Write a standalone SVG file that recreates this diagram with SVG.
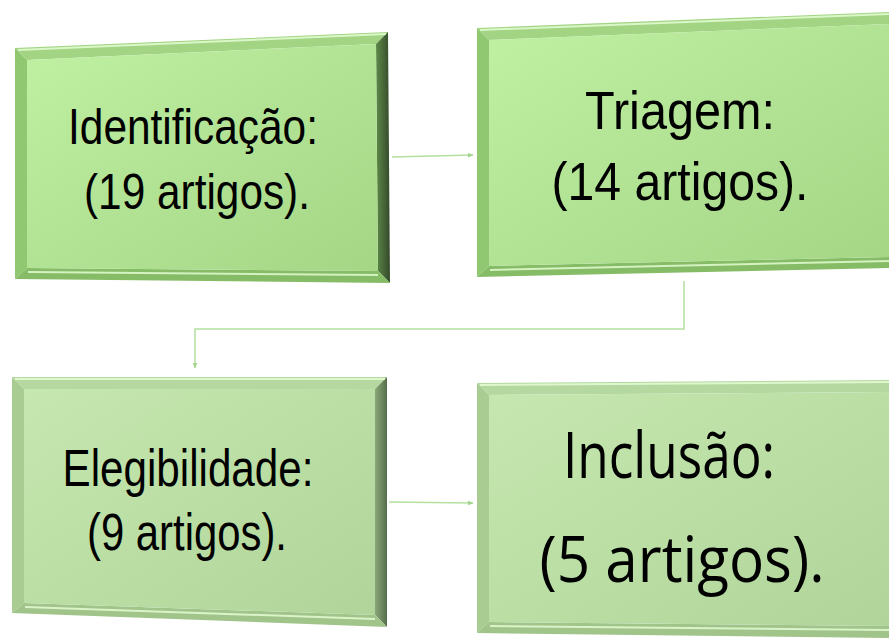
<svg xmlns="http://www.w3.org/2000/svg" width="889" height="640" viewBox="0 0 889 640">
<defs>
<linearGradient id="faceA" x1="0" y1="0" x2="1" y2="1"><stop offset="0" stop-color="#c0f0a2"/><stop offset="1" stop-color="#a4d686"/></linearGradient>
<linearGradient id="faceB" x1="0" y1="0" x2="1" y2="1"><stop offset="0" stop-color="#c6e8b0"/><stop offset="1" stop-color="#b0d49a"/></linearGradient>
<linearGradient id="rightA" x1="0" y1="0" x2="1" y2="0"><stop offset="0" stop-color="#5e8a4a"/><stop offset="1" stop-color="#33492a"/></linearGradient>
<linearGradient id="rightB" x1="0" y1="0" x2="1" y2="0"><stop offset="0" stop-color="#8aa878"/><stop offset="1" stop-color="#566e4c"/></linearGradient>
<marker id="arr" viewBox="0 0 10 10" refX="9" refY="5" markerWidth="6" markerHeight="6" orient="auto" markerUnits="userSpaceOnUse"><path d="M0,1 L10,5 L0,9 z" fill="#9fd48a"/></marker>
<style>
.conn{fill:none;stroke:#b4e0a0;stroke-width:1.5}
.topA{fill:#a2d484}.leftA{fill:#90c872}.botA{fill:#86bc66}
.topB{fill:#b4d8a0}.leftB{fill:#a8cc92}.botB{fill:#a0c48a}
.hl{fill:none;stroke:#e8ffd8;stroke-width:2;opacity:0.8}
.t{font-family:"Liberation Sans",Arial,sans-serif;fill:#000;text-anchor:middle}
.c{font-family:"Open Sans","Noto Sans",sans-serif;fill:#000;text-anchor:middle}
</style>
</defs>
<g id="connectors">
<path class="conn" d="M392,157 L473,155" marker-end="url(#arr)"/>
<path class="conn" d="M684,281 L684,329 L195,329 L195,368" marker-end="url(#arr)"/>
<path class="conn" d="M389,502 L473,503" marker-end="url(#arr)"/>
</g>
<g id="node-identificacao">
<polygon class="topA" points="15,48 388,32 376,44 27,60"/>
<polygon class="leftA" points="15,48 27,60 27,268 15,279"/>
<polygon fill="url(#rightA)" points="388,32 390,283 378,271 376,44"/>
<polygon class="botA" points="15,279 27,268 378,271 390,283"/>
<polygon fill="url(#faceA)" points="27,60 376,44 378,271 27,268"/>
<path class="hl" d="M18,50 L386,34"/>
<path class="hl" d="M28,272 L378,275"/>
<text class="t" x="193" y="144" font-size="50" textLength="250" lengthAdjust="spacingAndGlyphs">Identificação:</text>
<text class="t" x="197" y="209" font-size="50" textLength="226" lengthAdjust="spacingAndGlyphs">(19 artigos).</text>
</g>
<g id="node-triagem">
<polygon class="topA" points="477,28 889,12 889,24 489,40"/>
<polygon class="leftA" points="477,28 489,40 489,266 477,277"/>
<polygon class="botA" points="477,277 489,266 889,257 889,268"/>
<polygon fill="url(#faceA)" points="489,40 889,24 889,257 489,266"/>
<path class="hl" d="M480,30 L889,14"/>
<path class="hl" d="M490,270 L889,261"/>
<text class="t" x="680" y="129" font-size="53" textLength="190" lengthAdjust="spacingAndGlyphs">Triagem:</text>
<text class="t" x="680" y="200" font-size="53" textLength="257" lengthAdjust="spacingAndGlyphs">(14 artigos).</text>
</g>
<g id="node-elegibilidade">
<polygon class="topB" points="12,377 387,377 375,389 24,389"/>
<polygon class="leftB" points="12,377 24,389 24,603 12,613"/>
<polygon fill="url(#rightB)" points="387,377 387,627 375,615 375,389"/>
<polygon class="botB" points="12,613 24,603 375,615 387,627"/>
<polygon fill="url(#faceB)" points="24,389 375,389 375,615 24,603"/>
<path class="hl" d="M15,379 L385,379"/>
<path class="hl" d="M25,607 L375,619"/>
<text class="t" x="188" y="486" font-size="52" textLength="251" lengthAdjust="spacingAndGlyphs">Elegibilidade:</text>
<text class="t" x="187" y="550" font-size="52" textLength="200" lengthAdjust="spacingAndGlyphs">(9 artigos).</text>
</g>
<g id="node-inclusao">
<polygon class="topB" points="477,383 889,380 889,392 489,395"/>
<polygon class="leftB" points="477,383 489,395 489,622 477,633"/>
<polygon class="botB" points="477,633 489,622 889,626 889,638"/>
<polygon fill="url(#faceB)" points="489,395 889,392 889,626 489,622"/>
<path class="hl" d="M480,385 L889,382"/>
<path class="hl" d="M490,626 L889,630"/>
<text class="c" x="669" y="478" font-size="64" textLength="212" lengthAdjust="spacingAndGlyphs">Inclusão:</text>
<text class="c" x="682" y="582" font-size="64" textLength="285" lengthAdjust="spacingAndGlyphs">(5 artigos).</text>
</g>
</svg>
